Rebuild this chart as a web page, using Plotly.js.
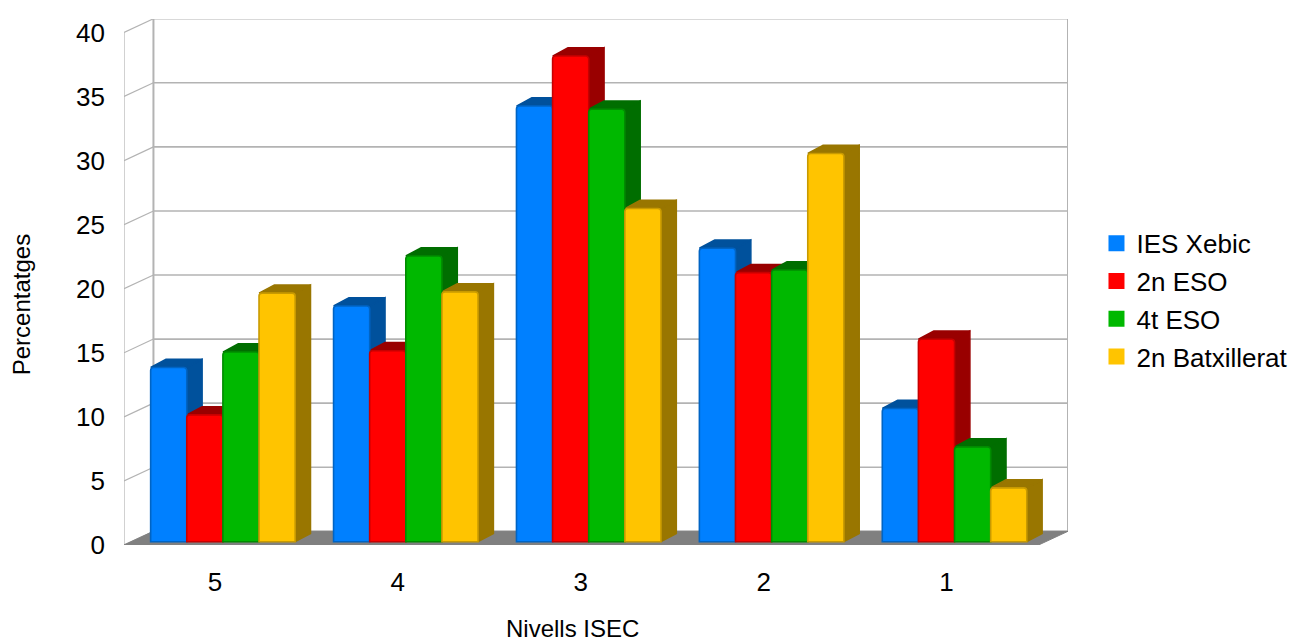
<!DOCTYPE html>
<html>
<head>
<meta charset="utf-8">
<script src="https://cdn.plot.ly/plotly-3.0.1.min.js"></script>
<style>html,body{margin:0;padding:0;background:#fff}#chart{width:1292px;height:641px}</style>
</head>
<body>
<div id="chart"></div>
<script>
const categories = ["5", "4", "3", "2", "1"];
const seriesNames = ["IES Xebic", "2n ESO", "4t ESO", "2n Batxillerat"];
const iesXebic = [13.6, 18.4, 34.0, 22.9, 10.4];
const eso2 = [9.9, 14.9, 37.9, 21.0, 15.8];
const eso4 = [14.8, 22.3, 33.75, 21.2, 7.4];
const batx2 = [19.4, 19.5, 26.0, 30.3, 4.2];
const seriesValues = [iesXebic, eso2, eso4, batx2];
const yTicks = [0, 5, 10, 15, 20, 25, 30, 35, 40];

const frontColors = ["#0080ff", "#ff0000", "#00b800", "#ffc400"];
const edgeColors = ["#0064c4", "#c80000", "#008c00", "#c89a00"];
const darkColors = ["#00519c", "#990000", "#006e00", "#997600"];
const gridColor = "#b3b3b3";

const W = 1292, H = 641, L = 124, R = 1068.5, T = 18.5, B = 545;
const xMin = -0.497, xMax = 4.664, yMax = 41.05;
const wallDx = 0.161, wallDy = 1.07;      // depth of the chart box
const barShiftX = 0.0437, barShiftY = 0.257; // bars stand part-way into the floor
const barDx = 0.084, barDy = 0.64;        // depth of each bar
const gapFrac = 0.21, groupW = 1 - gapFrac, barW = groupW / 4;

const traces = [];
// Back wall grid
const bgx = [], bgy = [], dgx = [], dgy = [];
yTicks.forEach(v => {
  bgx.push(xMin + wallDx, xMax, null); bgy.push(v + wallDy, v + wallDy, null);
  dgx.push(xMin, xMin + wallDx, null); dgy.push(v, v + wallDy, null);
});
dgx.push(xMin, xMin, null); dgy.push(0, 40, null);
traces.push({x: dgx, y: dgy, mode: "lines", line: {color: gridColor, width: 1.2}, hoverinfo: "skip", showlegend: false, cliponaxis: false});
traces.push({x: bgx, y: bgy, mode: "lines", line: {color: gridColor, width: 1.6}, hoverinfo: "skip", showlegend: false, cliponaxis: false});
traces.push({x: [xMin + wallDx, xMin + wallDx, null, xMax, xMax], y: [wallDy, 40 + wallDy, null, wallDy, 40 + wallDy], mode: "lines", line: {color: gridColor, width: 2}, hoverinfo: "skip", showlegend: false, cliponaxis: false});
// Floor
traces.push({x: [xMin, xMax - wallDx, xMax, xMin + wallDx, xMin], y: [0, 0, wallDy, wallDy, 0], mode: "lines", fill: "toself", fillcolor: "#808080", line: {color: "#808080", width: 1}, hoverinfo: "skip", showlegend: false, cliponaxis: false});

// Bar sides, then bar tops, built from the values
function barLeft(cat, s){ return cat - groupW / 2 + s * barW + barShiftX; }
seriesValues.forEach((vals, s) => {
  const px = [], py = [];
  vals.forEach((v, c) => {
    const r = barLeft(c, s) + barW, base = barShiftY, top = v + barShiftY;
    px.push(r, r + barDx, r + barDx, r, r, null);
    py.push(base, base + barDy, top + barDy, top, base, null);
  });
  traces.push({x: px, y: py, mode: "lines", fill: "toself", fillcolor: darkColors[s], line: {color: darkColors[s], width: 1.5}, hoverinfo: "skip", showlegend: false, cliponaxis: false});
});
seriesValues.forEach((vals, s) => {
  const px = [], py = [];
  vals.forEach((v, c) => {
    const l = barLeft(c, s), r = l + barW, top = v + barShiftY;
    px.push(l, l + barDx, r + barDx, r, l, null);
    py.push(top, top + barDy, top + barDy, top, top, null);
  });
  traces.push({x: px, y: py, mode: "lines", fill: "toself", fillcolor: darkColors[s], line: {color: darkColors[s], width: 1.5}, hoverinfo: "skip", showlegend: false, cliponaxis: false});
});
// Legend entries
seriesNames.forEach((n, s) => {
  traces.push({x: [null], y: [null], name: n, mode: "markers", legendgroup: n, marker: {symbol: "square", size: 16, color: frontColors[s]}, hoverinfo: "skip"});
});
// Front faces
seriesValues.forEach((vals, s) => {
  traces.push({type: "bar", x: categories.map((_, i) => i), y: vals, name: seriesNames[s], xaxis: "x2", yaxis: "y2", showlegend: false,
    marker: {color: frontColors[s], line: {color: edgeColors[s], width: 1.6}}});
});

const layout = {
  width: W, height: H,
  paper_bgcolor: "#ffffff", plot_bgcolor: "#ffffff",
  font: {family: '"Liberation Sans", Arial, sans-serif', color: "#000000"},
  margin: {l: L, r: W - R, t: T, b: H - B, pad: 0, autoexpand: false},
  hovermode: false,
  barmode: "group", bargap: gapFrac, bargroupgap: 0, barcornerradius: 3,
  xaxis: {type: "linear", range: [xMin, xMax], tickmode: "array", tickvals: categories.map((_, i) => i), ticktext: categories,
    showgrid: false, zeroline: false, showline: false, ticks: "", ticklabelstandoff: 19, tickfont: {size: 26}},
  yaxis: {type: "linear", range: [0, yMax], tickmode: "array", tickvals: yTicks, ticktext: yTicks.map(String),
    showgrid: false, zeroline: false, showline: false, ticks: "", ticklabelstandoff: 18, tickfont: {size: 26}},
  xaxis2: {overlaying: "x", anchor: "y2", type: "linear", range: [xMin - barShiftX, xMax - barShiftX], visible: false},
  yaxis2: {overlaying: "y", anchor: "x2", type: "linear", range: [-barShiftY, yMax - barShiftY], visible: false},
  legend: {x: (1097 - L) / (R - L), xanchor: "left", y: (B - 219.5) / (B - T), yanchor: "top", bgcolor: "rgba(0,0,0,0)",
    font: {size: 26}, tracegroupgap: 1, itemclick: false, itemdoubleclick: false},
  annotations: [
    {text: "Nivells ISEC", xref: "paper", yref: "paper", x: (573 - L) / (R - L), y: (B - 629) / (B - T), xanchor: "center", yanchor: "middle", showarrow: false, font: {size: 24}},
    {text: "Percentatges", xref: "paper", yref: "paper", x: (21 - L) / (R - L), y: (B - 305) / (B - T), xanchor: "center", yanchor: "middle", textangle: -90, showarrow: false, font: {size: 24}}
  ]
};
Plotly.newPlot("chart", traces, layout, {displayModeBar: false, responsive: false});
</script>
</body>
</html>
